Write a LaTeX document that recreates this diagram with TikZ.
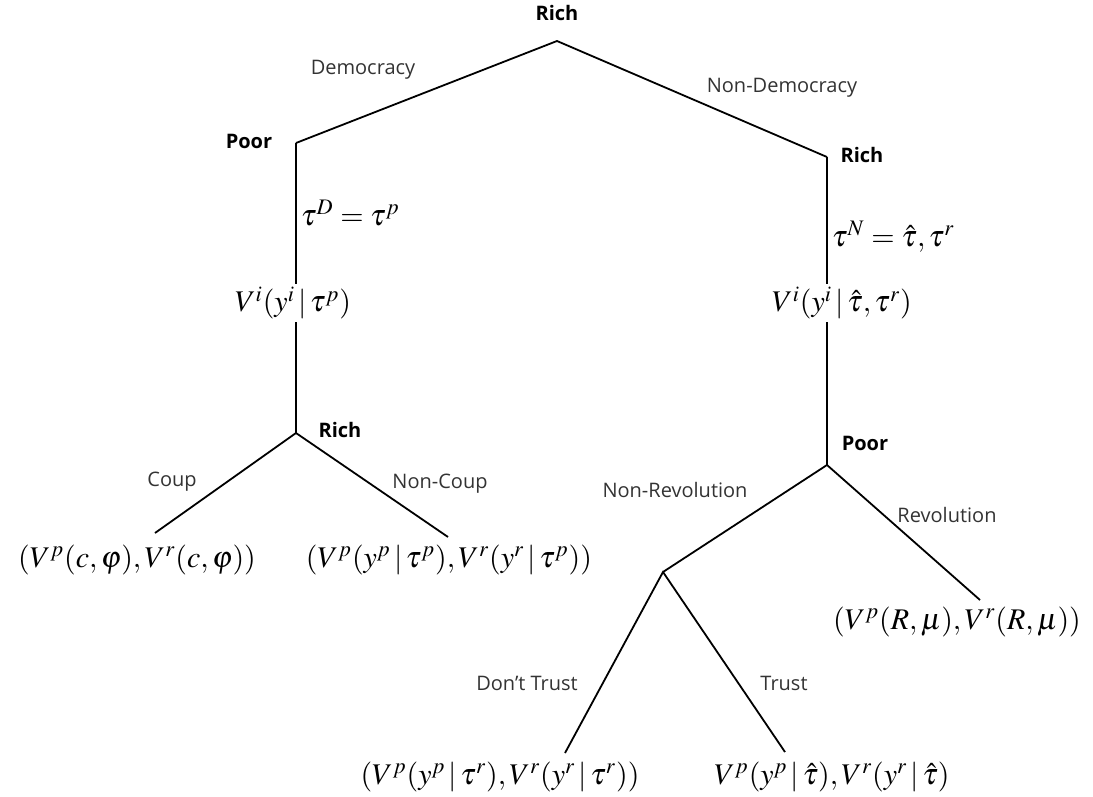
\documentclass[tikz,border=0pt]{standalone}
\usepackage{mathptmx}
\usepackage{fontspec}
\setsansfont{Open Sans}
\begin{document}
\begin{tikzpicture}[x=0.5pt,y=-0.5pt,line width=0.9pt,
        player/.style={font=\sffamily\bfseries\fontsize{10}{12}\selectfont},
        move/.style={font=\sffamily\fontsize{10}{12}\selectfont,text=black!80},
        pay/.style={font=\fontsize{15}{18}\selectfont,inner sep=1pt}]
    \useasboundingbox (0,0) rectangle (1093,797);
    \coordinate (root) at (557,41);
    \coordinate (poor1) at (296,143);
    \coordinate (rich1) at (827,157);
    \coordinate (rich2) at (296,433);
    \coordinate (poor2) at (827,465);
    \coordinate (nonrev) at (663,572);
    \coordinate (coupend) at (155,533);
    \coordinate (noncoupend) at (448,537);
    \coordinate (revend) at (980,600);
    \coordinate (dtrustend) at (565,753);
    \coordinate (trustend) at (785,752);
    \node[player] (rootlab) at (557,13) {Rich};
    \node[player] (poor1lab) at (249,141) {Poor};
    \node[player] (rich1lab) at (862,155) {Rich};
    \node[player] (rich2lab) at (340,430) {Rich};
    \node[player] (poor2lab) at (865,443) {Poor};
    \node[move] (demlab) at (363,70) {Democracy};
    \node[move] (nondemlab) at (782,88) {Non-Democracy};
    \node[move] (couplab) at (172,482) {Coup};
    \node[move] (noncouplab) at (440,484) {Non-Coup};
    \node[move] (nonrevlab) at (675,490) {Non-Revolution};
    \node[move] (revlab) at (947,515) {Revolution};
    \node[move] (dtrustlab) at (527,683) {Don’t Trust};
    \node[move] (trustlab) at (784,683) {Trust};
    \node[pay,anchor=west] (taud) at (298,213) {$\tau^D=\tau^p$};
    \node[pay,anchor=west] (taun) at (829,237) {$\tau^N=\hat\tau,\tau^r$};
    \node[pay] (vd) at (293,303) {$V^i(y^i\,|\,\tau^p)$};
    \node[pay] (vn) at (842,303) {$V^i(y^i\,|\,\hat\tau,\tau^r)$};
    \node[pay] (leafc) at (137,560) {$(V^p(c,\varphi),V^r(c,\varphi))$};
    \node[pay] (leafnc) at (449,560) {$(V^p(y^p\,|\,\tau^p),V^r(y^r\,|\,\tau^p))$};
    \node[pay] (leafr) at (957,622) {$(V^p(R,\mu),V^r(R,\mu))$};
    \node[pay] (leafdt) at (500,777) {$(V^p(y^p\,|\,\tau^r),V^r(y^r\,|\,\tau^r))$};
    \node[pay] (leaft) at (832,777) {$V^p(y^p\,|\,\hat\tau),V^r(y^r\,|\,\hat\tau)$};
    \draw (poor1) -- (root) -- (rich1);
    \draw (poor1) -- (poor1 |- vd.north);
    \draw (poor1 |- vd.south) -- (rich2);
    \draw (rich1) -- (rich1 |- vn.north);
    \draw (rich1 |- vn.south) -- (poor2);
    \draw (coupend) -- (rich2) -- (noncoupend);
    \draw (nonrev) -- (poor2) -- (revend);
    \draw (dtrustend) -- (nonrev) -- (trustend);
\end{tikzpicture}
\end{document}
